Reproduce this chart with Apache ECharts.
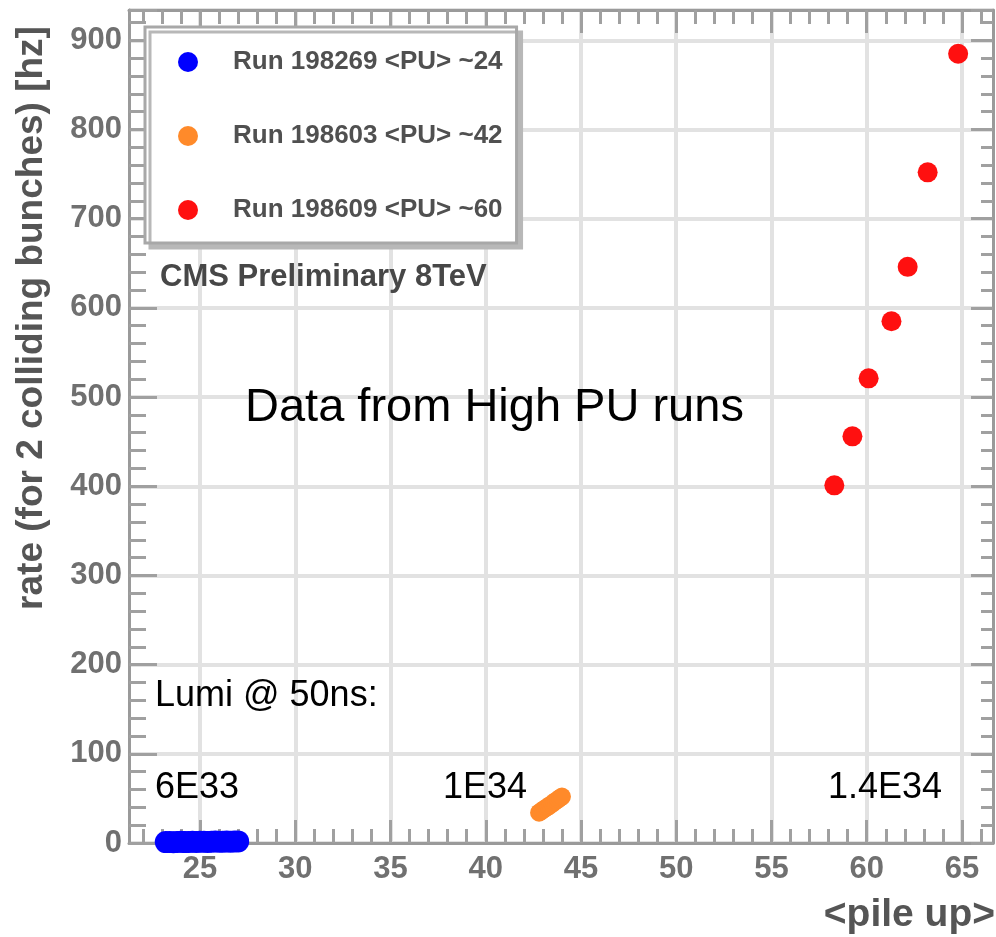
<!DOCTYPE html>
<html>
<head>
<meta charset="utf-8">
<style>
html,body{margin:0;padding:0;background:#fff;}
#chart{width:996px;height:937px;}
</style>
<script src="https://cdn.jsdelivr.net/npm/echarts@6/dist/echarts.min.js"></script>
</head>
<body>
<div id="chart"></div>
<script>
// ---- data ----
var seriesNames = ['Run 198269 <PU> ~24', 'Run 198603 <PU> ~42', 'Run 198609 <PU> ~60'];
var blueX = [23.2, 23.4, 23.6, 23.8, 24.0, 24.2, 24.4, 24.6, 24.8, 25.0, 25.2, 25.4, 25.6, 25.8, 26.0, 26.2, 26.4, 26.6, 26.8, 27.0];
var blueY = [1.0, 1.2, 0.9, 1.1, 1.3, 1.0, 1.2, 1.4, 1.1, 1.3, 1.5, 1.2, 1.4, 1.6, 1.3, 1.5, 1.7, 1.4, 1.6, 1.8];
var orangeX = [42.8, 42.9, 43.0, 43.1, 43.2, 43.3, 43.4, 43.5, 43.6, 43.7, 43.8, 43.9, 44.0];
var orangeY = [34, 35.5, 37, 38.5, 40, 41, 43, 44, 46, 47.5, 49, 50.5, 52];
var redX = [58.3, 59.25, 60.1, 61.3, 62.15, 63.2, 64.8];
var redY = [401, 456, 521, 585, 646, 752, 885];
var xMajorTicks = [25, 30, 35, 40, 45, 50, 55, 60, 65];
var xMinorTicks = [22, 23, 24, 26, 27, 28, 29, 31, 32, 33, 34, 36, 37, 38, 39, 41, 42, 43, 44, 46, 47, 48, 49, 51, 52, 53, 54, 56, 57, 58, 59, 61, 62, 63, 64, 66];
var xTitle = '<pile up>';
var yTitle = 'rate (for 2 colliding bunches) [hz]';
var notes = ['CMS Preliminary 8TeV', 'Data from High PU runs', 'Lumi @ 50ns:', '6E33', '1E34', '1.4E34'];

function pairs(xs, ys) { return xs.map(function (x, i) { return [x, ys[i]]; }); }

var FONT = '"Liberation Sans", Arial, sans-serif';
var X_MIN = 21.27, X_MAX = 66.63, Y_MIN = 0, Y_MAX = 934;
var tickColor = '#a0a0a0';
var frameColor = '#9a9a9a';
var labelStyle = { color: '#707070', fontSize: 31, fontWeight: 'bold', fontFamily: FONT };

function xAxisDef(pos, ticks, len, showLine, showLabel, showSplit) {
  return {
    type: 'value', position: pos, min: X_MIN, max: X_MAX,
    axisLine: { show: showLine, onZero: false, lineStyle: { color: frameColor, width: 3 } },
    axisTick: { show: true, inside: true, length: len, customValues: ticks, lineStyle: { color: tickColor, width: 3 } },
    axisLabel: showLabel ? Object.assign({ show: true, customValues: ticks, margin: 11 }, labelStyle) : { show: false },
    splitLine: { show: showSplit, lineStyle: { color: '#e2e2e2', width: 4 } },
    minorTick: { show: false }
  };
}
function yAxisDef(pos, len, minorLen, showLabel, showSplit) {
  return {
    type: 'value', position: pos, min: Y_MIN, max: Y_MAX, interval: 100,
    axisLine: { show: true, onZero: false, lineStyle: { color: frameColor, width: 3 } },
    axisTick: { show: true, inside: true, length: len, lineStyle: { color: tickColor, width: 3 } },
    minorTick: { show: true, splitNumber: 5, length: minorLen, lineStyle: { color: tickColor, width: 3 } },
    axisLabel: showLabel ? Object.assign({ show: true, margin: 7, showMaxLabel: false }, labelStyle) : { show: false },
    splitLine: { show: showSplit, lineStyle: { color: '#e2e2e2', width: 4 } }
  };
}

var chart = echarts.init(document.getElementById('chart'), null, { renderer: 'canvas' });
var option = {
  backgroundColor: '#ffffff',
  animation: false,
  grid: { left: 129, right: 3, top: 10, bottom: 94, containLabel: false, outerBoundsMode: 'none' },
  xAxis: [
    xAxisDef('bottom', xMajorTicks, 23, true, true, true),
    xAxisDef('bottom', xMinorTicks, 14, false, false, false),
    xAxisDef('top', xMajorTicks, 23, true, false, false),
    xAxisDef('top', xMinorTicks, 14, false, false, false)
  ],
  yAxis: [
    yAxisDef('left', 28, 17, true, true),
    yAxisDef('right', 22, 12, false, false)
  ],
  legend: {
    show: true, orient: 'vertical', left: 145, top: 27,
    padding: [22, 14, 20, 33], itemGap: 48, itemWidth: 20, itemHeight: 20,
    backgroundColor: '#ffffff', borderColor: '#a8a8a8', borderWidth: 3,
    shadowColor: '#b8b8b8', shadowOffsetX: 5, shadowOffsetY: 5, shadowBlur: 0,
    textStyle: { color: '#505050', fontSize: 26, fontWeight: 'bold', fontFamily: FONT, padding: [0, 0, 0, 30] },
    data: seriesNames.map(function (n) { return { name: n, icon: 'circle' }; })
  },
  series: [
    { name: seriesNames[0], type: 'scatter', xAxisIndex: 0, yAxisIndex: 0, clip: false, symbol: 'circle', symbolSize: 22,
      itemStyle: { color: '#0000ff', opacity: 1 }, data: pairs(blueX, blueY), z: 5 },
    { name: seriesNames[1], type: 'scatter', xAxisIndex: 0, yAxisIndex: 0, clip: false, symbol: 'circle', symbolSize: 18,
      itemStyle: { color: '#ff8a2a', opacity: 1 }, data: pairs(orangeX, orangeY), z: 5 },
    { name: seriesNames[2], type: 'scatter', xAxisIndex: 0, yAxisIndex: 0, clip: false, symbol: 'circle', symbolSize: 20,
      itemStyle: { color: '#ff1010', opacity: 1 }, data: pairs(redX, redY), z: 5 }
  ],
  graphic: [
    { type: 'text', left: 160, top: 262, z: 10,
      style: { text: notes[0], fill: '#474747', font: 'bold 31px ' + FONT } },
    { type: 'text', x: 245, y: 432, z: 10,
      style: { text: notes[1], fill: '#000', font: '47px ' + FONT, textVerticalAlign: 'bottom' } },
    { type: 'text', x: 155, y: 714, z: 10,
      style: { text: notes[2], fill: '#000', font: '36px ' + FONT, textVerticalAlign: 'bottom' } },
    { type: 'text', x: 155, y: 806, z: 10,
      style: { text: notes[3], fill: '#000', font: '36px ' + FONT, textVerticalAlign: 'bottom' } },
    { type: 'text', x: 443, y: 806, z: 10,
      style: { text: notes[4], fill: '#000', font: '36px ' + FONT, textVerticalAlign: 'bottom' } },
    { type: 'text', x: 828, y: 806, z: 10,
      style: { text: notes[5], fill: '#000', font: '36px ' + FONT, textVerticalAlign: 'bottom' } },
    { type: 'text', x: 32, y: 318, rotation: Math.PI / 2, z: 10,
      style: { text: yTitle, fill: '#555', font: 'bold 37px ' + FONT, textAlign: 'center', textVerticalAlign: 'middle' } },
    { type: 'text', x: 995, y: 935, z: 10,
      style: { text: xTitle, fill: '#555', font: 'bold 39px ' + FONT, textAlign: 'right', textVerticalAlign: 'bottom' } }
  ]
};
chart.setOption(option);
</script>
</body>
</html>
